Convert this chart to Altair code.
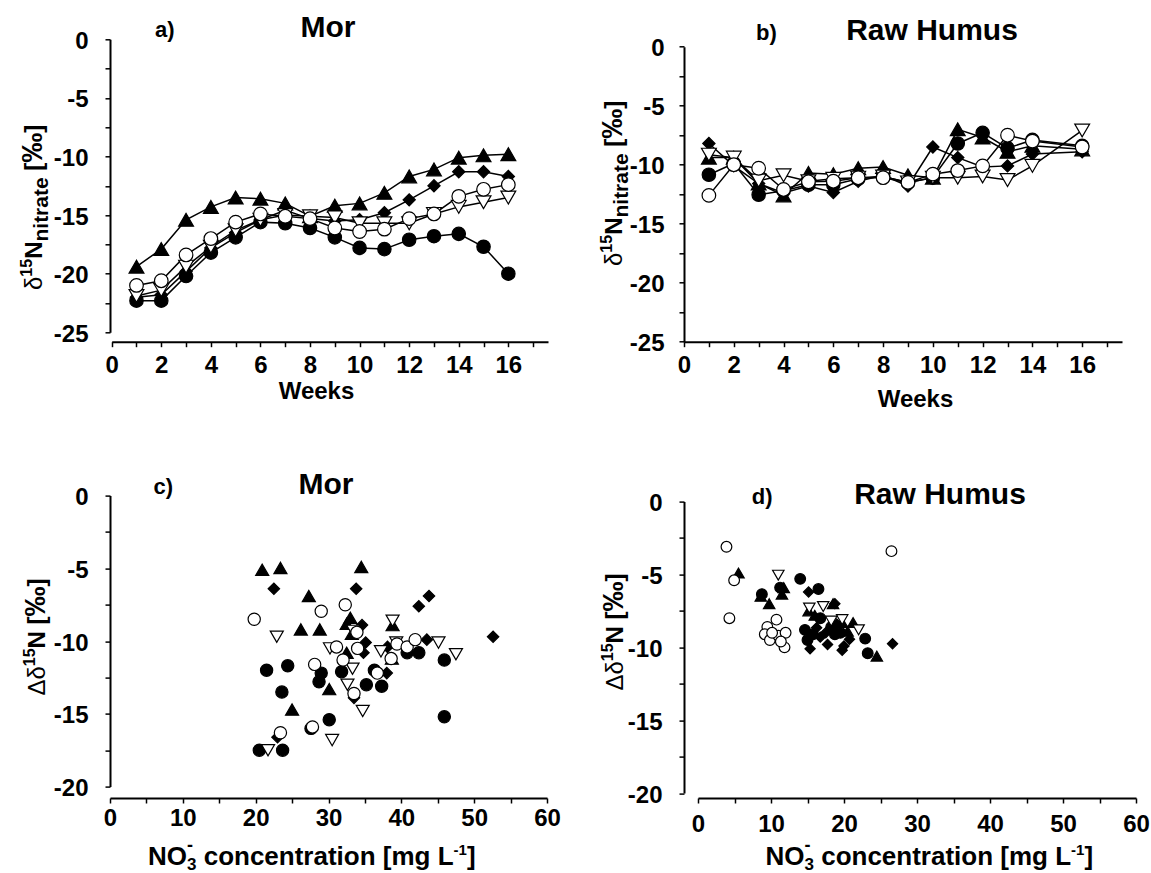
import altair as alt
import pandas as pd

FONT = "Liberation Sans"

# ---------------- data: panel a (Mor) / b (Raw Humus), weekly delta15N nitrate ----------------
SERIES = ["filled circle", "filled triangle", "filled diamond", "open triangle", "open circle"]
SHAPES = ["circle", "triangle-up", "diamond", "triangle-down", "circle"]
FILLS = ["black", "black", "black", "white", "white"]

weeks_mor = [1, 2, 3, 4, 5, 6, 7, 8, 9, 10, 11, 12, 13, 14, 15, 16]
mor_filled_circle = [-22.3, -22.3, -20.2, -18.2, -16.9, -15.6, -15.7, -16.1, -16.9, -17.8, -17.9, -17.1, -16.8, -16.6, -17.7, -20.0]
mor_filled_triangle = [-19.4, -17.9, -15.4, -14.3, -13.5, -13.6, -14.0, -15.1, -14.2, -14.0, -13.1, -11.7, -11.1, -10.1, -9.9, -9.8]
mor_filled_diamond = [-22.0, -21.8, -19.8, -17.8, -16.5, -15.4, -14.6, -15.3, -15.5, -15.4, -14.8, -13.7, -12.5, -11.3, -11.3, -11.7]
mor_open_triangle = [-21.9, -21.4, -19.4, -17.7, -16.3, -15.4, -15.0, -15.1, -15.2, -15.7, -15.7, -15.7, -14.9, -14.3, -13.9, -13.5]
mor_open_circle = [-21.0, -20.6, -18.4, -17.0, -15.6, -14.9, -15.1, -15.3, -16.1, -16.4, -16.2, -15.3, -14.9, -13.4, -12.8, -12.4]

weeks_raw = [1, 2, 3, 4, 5, 6, 7, 8, 9, 10, 11, 12, 13, 14, 16]
raw_filled_circle = [-10.85, -9.9, -12.55, -12.2, -11.7, -11.7, -11.2, -11.0, -11.5, -11.1, -8.2, -7.3, -8.6, -7.9, -8.4]
raw_filled_triangle = [-9.4, -9.4, -11.6, -12.6, -10.7, -10.8, -10.3, -10.2, -10.9, -11.1, -7.0, -7.7, -8.9, -8.4, -8.7]
raw_filled_diamond = [-8.2, -10.1, -11.6, -12.4, -11.8, -12.35, -11.4, -10.9, -11.8, -8.5, -9.4, -10.2, -10.1, -9.1, -8.9]
raw_open_triangle = [-9.15, -9.4, -11.35, -10.9, -11.4, -11.2, -11.1, -11.0, -11.5, -11.1, -11.1, -11.0, -11.3, -10.1, -7.1]
raw_open_circle = [-12.6, -10.0, -10.3, -12.1, -11.45, -11.4, -11.1, -11.1, -11.5, -10.8, -10.5, -10.1, -7.5, -8.0, -8.5]

# ---------------- data: panel c (Mor) scatter: NO3 concentration vs delta delta15N ----------------
c_filled_circle_x = [21.5, 24.4, 23.6, 20.5, 23.7, 29.0, 28.7, 31.8, 30.1, 27.6, 35.2, 36.3, 37.3, 40.8, 42.4, 45.9, 45.9]
c_filled_circle_y = [-12.0, -11.7, -13.5, -17.5, -17.5, -12.2, -12.8, -12.1, -15.4, -16.0, -13.0, -12.0, -13.1, -10.8, -10.8, -11.3, -15.2]
c_filled_triangle_x = [20.9, 23.4, 34.5, 27.3, 26.2, 28.8, 33.0, 32.5, 33.2, 38.8, 38.7, 30.1, 25.0, 32.5]
c_filled_triangle_y = [-5.1, -4.97, -4.9, -6.9, -9.2, -9.2, -8.4, -8.8, -9.5, -8.9, -11.2, -13.3, -14.7, -10.8]
c_filled_diamond_x = [22.5, 33.8, 42.4, 43.8, 34.6, 35.1, 34.8, 43.5, 52.6, 38.0, 33.5, 23.0, 27.7, 38.1]
c_filled_diamond_y = [-6.4, -6.4, -7.6, -6.9, -8.9, -10.1, -10.8, -9.9, -9.7, -12.2, -13.9, -16.6, -16.0, -10.4]
c_open_triangle_x = [22.9, 30.2, 33.4, 33.3, 32.6, 34.7, 30.5, 21.7, 37.2, 38.8, 39.3, 45.1, 47.5]
c_open_triangle_y = [-9.7, -10.5, -9.3, -11.9, -13.0, -14.8, -16.8, -17.5, -10.7, -8.6, -10.1, -10.1, -10.9]
c_open_circle_x = [19.8, 29.0, 32.3, 28.1, 31.1, 32.0, 34.0, 33.9, 36.7, 38.6, 39.4, 40.8, 41.9, 33.5, 23.4, 27.8]
c_open_circle_y = [-8.5, -7.95, -7.5, -11.6, -10.4, -11.3, -10.5, -9.4, -12.2, -11.2, -10.2, -10.4, -9.9, -13.6, -16.3, -15.9]

# ---------------- data: panel d (Raw Humus) scatter ----------------
d_filled_circle_x = [8.75, 11.25, 14.0, 16.5, 14.65, 15.75, 16.75, 18.25, 22.9, 23.25, 18.75, 15.0, 19.5]
d_filled_circle_y = [-6.35, -5.9, -5.3, -6.0, -8.8, -9.1, -8.0, -8.6, -9.4, -10.4, -9.1, -9.5, -9.0]
d_filled_triangle_x = [5.55, 8.6, 9.75, 11.75, 11.5, 15.15, 19.75, 21.25, 24.5, 18.5, 16.0, 20.5]
d_filled_triangle_y = [-4.9, -6.5, -7.0, -5.9, -6.35, -7.5, -8.3, -8.3, -10.6, -7.0, -7.8, -8.9]
d_filled_diamond_x = [15.35, 15.15, 26.65, 19.75, 18.75, 16.75, 17.75, 20.75, 16.25, 19.0, 17.5, 20.0]
d_filled_diamond_y = [-10.1, -6.2, -9.75, -10.2, -7.0, -9.3, -9.8, -9.45, -8.65, -8.4, -9.0, -9.9]
d_open_triangle_x = [11.0, 15.25, 17.15, 19.75, 22.0, 18.25]
d_open_triangle_y = [-5.05, -7.3, -7.2, -8.1, -8.8, -8.2]
d_open_circle_x = [3.9, 26.5, 4.95, 4.3, 10.75, 9.5, 9.15, 9.85, 11.0, 12.0, 11.85, 10.15, 11.35]
d_open_circle_y = [-3.1, -3.4, -5.4, -8.0, -8.1, -8.6, -9.1, -9.5, -9.2, -9.0, -10.0, -9.0, -9.6]

# ---------------- helpers ----------------
PW, PH = 452, 302.4
EM = {"N": .722, "O": .778, " ": .278, "c": .556, "o": .611, "n": .611, "e": .556, "t": .333,
      "r": .389, "a": .556, "i": .278, "[": .333, "m": .889, "g": .611, "L": .611, "]": .333,
      "-": .333, "‰": 1.0, "δ": .556, "Δ": .668}


def twidth(s, size):
    return sum(EM.get(ch, .556) for ch in s) * size


def txt(s, x, y, size, weight="bold", align="left", angle=0):
    return alt.Chart(pd.DataFrame({"t": [s]})).mark_text(
        align=align, baseline="alphabetic", font=FONT, fontSize=size,
        fontWeight=weight, color="black", angle=angle
    ).encode(x=alt.value(x), y=alt.value(y), text="t:N")


def rich(pieces, x0, y0, vertical=False):
    out = []
    pos = 0.0
    for text, size, weight, rise, adv in pieces:
        lead = len(text) - len(text.lstrip(" "))
        pos += lead * EM[" "] * size
        body = text.lstrip(" ")
        if vertical:
            out.append(txt(body, x0 - rise, y0 - pos, size, weight, angle=270))
        else:
            out.append(txt(body, x0 + pos, y0 - rise, size, weight))
        if adv:
            pos += twidth(body, size)
    return out


def axis(values, mod, lpad, **kw):
    return alt.Axis(values=values, labelExpr=f"datum.value % {mod} === 0 ? '' + datum.value : ''",
                    domainColor="black", domainWidth=2, tickColor="black", tickWidth=1.5, tickSize=5,
                    labelFont=FONT, labelFontSize=24, labelFontWeight="bold", labelColor="black",
                    labelOverlap=False, labelFlush=False, labelPadding=lpad, grid=False,
                    titleFont=FONT, titleFontSize=24, titleFontWeight="bold", titleColor="black", **kw)


def long_df(xs, ys, sizes):
    rows = []
    for i, name in enumerate(SERIES):
        for x, y in zip(xs[i], ys[i]):
            rows.append({"x": x, "y": y, "s": name, "shape": SHAPES[i], "fill": FILLS[i], "sz": sizes[i]})
    return pd.DataFrame(rows)


def data_layers(df, xscale, yscale, xax, yax, lines):
    X = alt.X("x:Q", scale=xscale, axis=xax)
    Y = alt.Y("y:Q", scale=yscale, axis=yax)
    layers = []
    if lines:
        layers.append(alt.Chart(df).mark_line(color="black", strokeWidth=1.5).encode(x=X, y=Y, detail="s:N"))
    layers.append(alt.Chart(df).mark_point(filled=True, stroke="black", strokeWidth=1.2, opacity=1).encode(
        x=X, y=Y,
        shape=alt.Shape("shape:N", scale=None),
        fill=alt.Fill("fill:N", scale=None),
        size=alt.Size("sz:Q", scale=None),
    ))
    return layers


TS_SIZES = [180, 220, 150, 220, 185]
week_vals = list(range(0, 18))
y25_vals = [-2.5 * k for k in range(11)]
y20_vals = [-2.5 * k for k in range(9)]
conc_vals = list(range(0, 61, 5))

Y_TITLE_AB = [("δ", 24, "normal", 0, True), ("15", 16, "bold", 10, True), ("N", 24, "bold", 0, True),
              ("nitrate", 21, "bold", -6, True), (" [", 24, "bold", 0, True), ("‰", 30, "bold", 0, True),
              ("]", 24, "bold", 0, True)]
Y_TITLE_CD = [("Δδ", 24, "normal", 0, True), ("15", 16, "bold", 10, True), ("N", 24, "bold", 0, True),
              (" [", 24, "bold", 0, True), ("‰", 30, "bold", 0, True), ("]", 24, "bold", 0, True)]
X_TITLE_CD = [("NO", 26, "bold", 0, True), ("-", 18, "bold", 14, False), ("3", 17, "bold", -5, True),
              (" concentration [mg L", 26, "bold", 0, True), ("-1", 15, "bold", 10, True), ("]", 26, "bold", 0, True)]

# ---- panel a ----
dfa = long_df([weeks_mor] * 5,
              [mor_filled_circle, mor_filled_triangle, mor_filled_diamond, mor_open_triangle, mor_open_circle],
              TS_SIZES)
pa = alt.layer(
    *data_layers(dfa,
                 alt.Scale(domain=[0, 17.6], range=[1.7, 438], nice=False, zero=False),
                 alt.Scale(domain=[-25, 0], range=[293, 0], nice=False, zero=False),
                 axis(week_vals, 2, 7, title="Weeks", titlePadding=2, titleX=206),
                 axis(y25_vals, 5, 17, title=None, labelOffset=2),
                 True),
    txt("a)", 45, -2.6, 22),
    txt("Mor", 218, -2.6, 30, align="center"),
    *rich(Y_TITLE_AB, -68.3, 250.7, vertical=True),
).properties(width=PW, height=PH)

# ---- panel b ----
dfb = long_df([weeks_raw] * 5,
              [raw_filled_circle, raw_filled_triangle, raw_filled_diamond, raw_open_triangle, raw_open_circle],
              TS_SIZES)
pb = alt.layer(
    *data_layers(dfb,
                 alt.Scale(domain=[0, 17.6], range=[0, 438], nice=False, zero=False),
                 alt.Scale(domain=[-25, 0], range=[302.4, 7.4], nice=False, zero=False),
                 axis(week_vals, 2, 7, title="Weeks", titlePadding=10, titleX=231),
                 axis(y25_vals, 5, 15, title=None, labelOffset=2),
                 True),
    txt("b)", 72, 0.7, 22),
    txt("Raw Humus", 248, 0.7, 30, align="center"),
    *rich(Y_TITLE_AB, -62, 226.7, vertical=True),
).properties(width=PW, height=PH)

# ---- panel c ----
dfc = long_df([c_filled_circle_x, c_filled_triangle_x, c_filled_diamond_x, c_open_triangle_x, c_open_circle_x],
              [c_filled_circle_y, c_filled_triangle_y, c_filled_diamond_y, c_open_triangle_y, c_open_circle_y],
              [150, 170, 130, 170, 150])
pc = alt.layer(
    *data_layers(dfc,
                 alt.Scale(domain=[0, 60], range=[0, 437], nice=False, zero=False),
                 alt.Scale(domain=[-20, 0], range=[291, 0], nice=False, zero=False),
                 axis(conc_vals, 10, 3, title=None),
                 axis(y20_vals, 5, 17, title=None, labelOffset=2),
                 False),
    txt("c)", 43.6, -1.7, 22),
    txt("Mor", 216, -1.7, 30, align="center"),
    *rich(Y_TITLE_CD, -65.5, 200, vertical=True),
    *rich(X_TITLE_CD, 38, 369.7),
).properties(width=PW, height=PH)

# ---- panel d ----
dfd = long_df([d_filled_circle_x, d_filled_triangle_x, d_filled_diamond_x, d_open_triangle_x, d_open_circle_x],
              [d_filled_circle_y, d_filled_triangle_y, d_filled_diamond_y, d_open_triangle_y, d_open_circle_y],
              [115, 130, 105, 130, 115])
pd_ = alt.layer(
    *data_layers(dfd,
                 alt.Scale(domain=[0, 60], range=[14, 452], nice=False, zero=False),
                 alt.Scale(domain=[-20, 0], range=[297.5, 6], nice=False, zero=False),
                 axis(conc_vals, 10, 9, title=None),
                 axis(y20_vals, 5, 17, title=None, labelOffset=2),
                 False),
    txt("d)", 67.7, 8.3, 22),
    txt("Raw Humus", 256, 8.3, 30, align="center"),
    *rich(Y_TITLE_CD, -61, 195, vertical=True),
    *rich(X_TITLE_CD, 81.5, 369.7),
).properties(width=PW, height=PH)

chart = alt.concat(
    pa, pb, pc, pd_, columns=2, spacing={"row": 153.3, "column": 122}, bounds="flush", align="all"
).properties(
    padding={"left": 110, "top": 39.3, "right": 1041, "bottom": 833.7},
    autosize=alt.AutoSizeParams(type="none"),
    background="white",
).configure_view(stroke=None)

chart.save("out.html", embed_options={"renderer": "svg", "actions": False})
